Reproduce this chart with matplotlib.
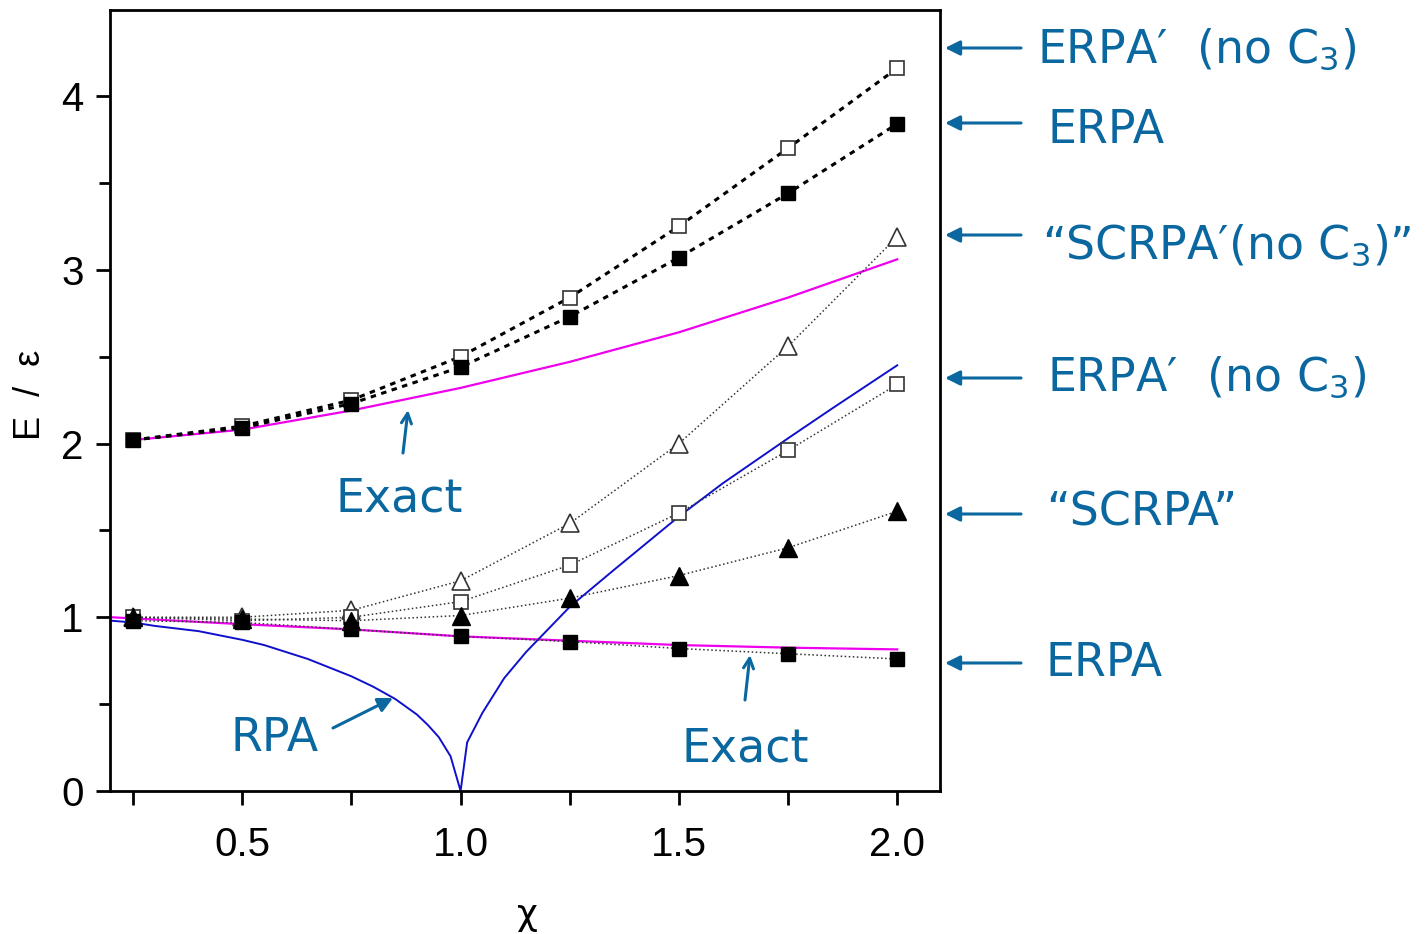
import matplotlib
matplotlib.use('Agg')
import matplotlib.pyplot as plt
import numpy as np

plt.rcParams['mathtext.default'] = 'regular'

W, H = 1428, 934

chi = [0.25, 0.5, 0.75, 1.0, 1.25, 1.5, 1.75, 2.0]

# upper branch
erpa_p_up = [2.02, 2.10, 2.25, 2.50, 2.84, 3.25, 3.70, 4.16]
erpa_up = [2.02, 2.09, 2.23, 2.44, 2.73, 3.07, 3.44, 3.84]
exact_up = [2.02, 2.08, 2.19, 2.32, 2.47, 2.64, 2.84, 3.06]

# lower branch
scrpa_p = [1.00, 1.00, 1.04, 1.21, 1.54, 2.00, 2.56, 3.19]
erpa_p_low = [1.00, 0.98, 1.00, 1.09, 1.30, 1.60, 1.96, 2.34]
scrpa = [1.00, 0.99, 0.98, 1.01, 1.11, 1.24, 1.40, 1.61]
erpa_low = [0.98, 0.97, 0.93, 0.89, 0.86, 0.82, 0.79, 0.76]

chi_exact_low = [0.2, 0.5, 0.75, 1.0, 1.25, 1.5, 1.75, 2.0]
exact_low = [1.00, 0.96, 0.93, 0.89, 0.865, 0.84, 0.825, 0.815]

chi_rpa = [0.2, 0.25, 0.3, 0.4, 0.5, 0.55, 0.6, 0.65, 0.7, 0.75, 0.8, 0.85,
           0.9, 0.925, 0.95, 0.977, 1.0, 1.015, 1.05, 1.1, 1.15, 1.2, 1.25,
           1.35, 1.5, 1.6, 1.75, 1.85, 2.0]
rpa = [0.98, 0.97, 0.95, 0.92, 0.87, 0.84, 0.80, 0.76, 0.71, 0.66, 0.60,
       0.53, 0.44, 0.38, 0.31, 0.20, 0.0, 0.28, 0.45, 0.65, 0.80, 0.93, 1.06,
       1.27, 1.58, 1.77, 2.03, 2.20, 2.45]

fig = plt.figure(figsize=(W / 100, H / 100), dpi=100)
ax = fig.add_axes([110 / W, 1 - 791 / H, 830 / W, 781 / H])

# curves
ax.plot(chi, exact_up, color='#ee00ee', lw=1.6, zorder=2)
ax.plot(chi_exact_low, exact_low, color='#ee00ee', lw=1.6, zorder=2)
ax.plot(chi_rpa, rpa, color='#1010cc', lw=1.4, zorder=2)

# data with markers
dash = (0, (1.8, 1.8))
ax.plot(chi, erpa_p_up, ls=dash, lw=2.2, color='black',
        marker='s', ms=10, mfc='white', mec='#333333', mew=1.2, zorder=3)
ax.plot(chi, erpa_up, ls=dash, lw=2.2, color='black',
        marker='s', ms=10, mfc='black', mec='black', zorder=3)
ax.plot(chi, scrpa_p, ls=':', lw=1.1, color='#333333',
        marker='^', ms=13, mfc='white', mec='#333333', mew=1.2, zorder=3)
ax.plot(chi, erpa_p_low, ls=':', lw=1.1, color='#333333',
        marker='s', ms=10, mfc='white', mec='#333333', mew=1.2, zorder=3)
ax.plot(chi, scrpa, ls=':', lw=1.1, color='#333333',
        marker='^', ms=13, mfc='black', mec='black', zorder=3)
ax.plot(chi, erpa_low, ls=':', lw=1.1, color='#333333',
        marker='s', ms=10, mfc='black', mec='black', zorder=3)

ax.set_xlim(0.197, 2.098)
ax.set_ylim(0, 4.495)

for s in ax.spines.values():
    s.set_linewidth(2)

tick_font = dict(family=['Liberation Sans Narrow', 'Liberation Sans', 'DejaVu Sans'], size=29)
ax.set_xticks([0.5, 1.0, 1.5, 2.0])
ax.set_xticklabels(['0.5', '1.0', '1.5', '2.0'], **tick_font)
ax.set_xticks([0.25, 0.75, 1.25, 1.75], minor=True)
ax.set_yticks([0, 1, 2, 3, 4])
ax.set_yticklabels(['0', '1', '2', '3', '4'], **tick_font)
ax.set_yticks([0.5, 1.5, 2.5, 3.5], minor=True)
ax.tick_params(which='major', length=10, width=2)
ax.tick_params(axis='x', which='major', pad=15)
ax.tick_params(axis='y', which='major', pad=9)
ax.tick_params(which='minor', length=10, width=2)
ax.tick_params(axis='y', which='minor', length=8)

fig.text(30 / W, 1 - 395 / H, 'E  /  ε', rotation=90, ha='center', va='center',
         fontsize=26, family=['Liberation Sans', 'DejaVu Sans'])
fig.text(527 / W, 1 - 915 / H, 'χ', ha='center', va='center',
         fontsize=26, family=['Liberation Sans Narrow', 'DejaVu Sans'])

# annotations
blue = '#0a67a0'
afont = dict(family=['DejaVu Sans'], fontsize=33, color=blue)


def label(x, y, s):
    fig.text(x / W, 1 - y / H, s, ha='left', va='baseline', **afont)


def arrow(x1, y1, x2, y2, style='-|>', ms=20):
    ax.annotate('', xy=(x2, H - y2), xytext=(x1, H - y1),
                xycoords='figure pixels', textcoords='figure pixels',
                arrowprops=dict(arrowstyle=style, color=blue, lw=2.2,
                                mutation_scale=ms, shrinkA=0, shrinkB=0),
                annotation_clip=False)


right = [
    (62, 48, 1037, 'ERPA′  (no C$_3$)'),
    (143, 123, 1048, 'ERPA'),
    (258, 235, 1042, '“SCRPA′(no C$_3$)”'),
    (390, 378, 1047, 'ERPA′  (no C$_3$)'),
    (526, 514, 1046, '“SCRPA”'),
    (676, 663, 1045, 'ERPA'),
]
for base, ay, tx, s in right:
    label(tx, base, s)
    arrow(1021, ay, 945, ay, ms=22)

label(335, 511, 'Exact')
arrow(403, 453, 408, 410, style='->', ms=18)
label(681, 762, 'Exact')
arrow(745, 700, 750, 655, style='->', ms=18)
label(230, 751, 'RPA')
arrow(333, 728, 393, 698, ms=22)

fig.savefig('out.png', dpi=100)
